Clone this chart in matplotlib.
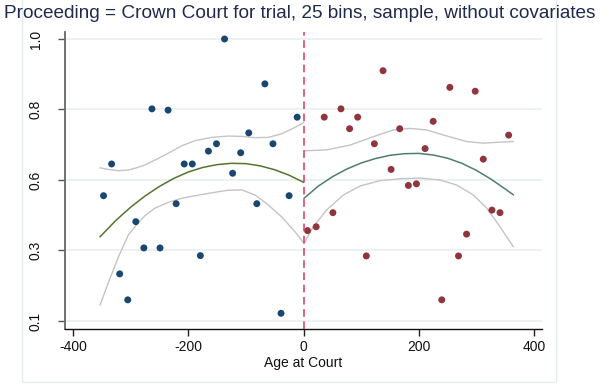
import matplotlib
matplotlib.use("Agg")
import matplotlib.pyplot as plt
from matplotlib.ticker import FormatStrFormatter, FixedLocator
from matplotlib.patches import Rectangle

plt.rcParams['font.family'] = ['Liberation Sans', 'DejaVu Sans']

# Binned means, below the cutoff
bins_left_x = [-347, -333, -319, -305, -291, -277, -263, -249, -235, -221,
               -207, -193, -179, -165, -151, -137, -123, -109, -95, -81,
               -67, -53, -39, -25, -11]
bins_left_y = [0.511, 0.610, 0.267, 0.186, 0.430, 0.348, 0.782, 0.348, 0.778, 0.486,
               0.610, 0.610, 0.324, 0.650, 0.673, 1.000, 0.581, 0.645, 0.707, 0.486,
               0.860, 0.673, 0.144, 0.511, 0.756]

# Binned means, above the cutoff
bins_right_x = [7, 22, 36, 51, 65, 80, 94, 109, 123, 138,
                152, 167, 182, 196, 211, 225, 240, 254, 269, 283,
                298, 312, 327, 341, 356]
bins_right_y = [0.402, 0.414, 0.756, 0.458, 0.782, 0.720, 0.756, 0.323, 0.673, 0.901,
                0.593, 0.720, 0.543, 0.548, 0.658, 0.743, 0.186, 0.849, 0.323, 0.391,
                0.837, 0.625, 0.466, 0.458, 0.700]

# Fitted polynomial, below the cutoff
fit_left_x = [-353, -325, -300, -275, -250, -225, -200, -175, -150, -125,
              -100, -75, -50, -25, 0]
fit_left_y = [0.383, 0.435, 0.475, 0.510, 0.540, 0.565, 0.585, 0.599, 0.608, 0.612,
              0.611, 0.604, 0.592, 0.575, 0.553]

# Confidence band, below the cutoff
ci_left_x = [-353, -339, -321, -304, -290, -275, -258, -235, -211, -188,
             -159, -131, -107, -84, -61, -38, -15, 0]
ci_left_hi = [0.598, 0.593, 0.589, 0.591, 0.598, 0.607, 0.622, 0.643, 0.667, 0.683,
              0.693, 0.697, 0.696, 0.692, 0.693, 0.704, 0.724, 0.739]
ci_left_lo = [0.170, 0.238, 0.321, 0.388, 0.420, 0.449, 0.472, 0.490, 0.503, 0.511,
              0.520, 0.528, 0.529, 0.513, 0.482, 0.445, 0.399, 0.364]

# Fitted polynomial, above the cutoff
fit_right_x = [1, 25, 50, 75, 100, 125, 150, 175, 200, 225, 250, 275, 300, 325, 350, 364]
fit_right_y = [0.503, 0.540, 0.570, 0.594, 0.613, 0.627, 0.637, 0.642, 0.643, 0.638,
               0.628, 0.612, 0.590, 0.563, 0.532, 0.514]

# Confidence band, above the cutoff
ci_right_x = [1, 40, 81, 121, 156, 185, 214, 249, 283, 312, 341, 364]
ci_right_hi = [0.651, 0.654, 0.669, 0.695, 0.716, 0.721, 0.716, 0.697, 0.680, 0.675, 0.678, 0.680]
ci_right_lo_x = [1, 17, 40, 69, 98, 133, 168, 202, 237, 266, 295, 318, 341, 364]
ci_right_lo = [0.362, 0.414, 0.466, 0.513, 0.541, 0.558, 0.564, 0.566, 0.560, 0.544,
               0.513, 0.472, 0.414, 0.352]

y_ticks = [0.12, 0.34, 0.56, 0.78, 1.0]
x_ticks = [-400, -200, 0, 200, 400]

title = "Proceeding = Crown Court for trial, 25 bins, sample, without covariates"
xlabel = "Age at Court"

navy = "#1a476f"
maroon = "#90353b"
green_l = "#55752f"
green_r = "#4f7f6c"
band = "#c4c4c4"
cut = "#d8385e"

fig = plt.figure(figsize=(6.15, 3.85), dpi=100)
fig.patch.set_facecolor("white")

# outer graph region frame
fig.add_artist(Rectangle((22 / 615, 3 / 385), (556 - 22) / 615, 1.2,
                         transform=fig.transFigure, fill=False,
                         edgecolor="#e4ecee", linewidth=1.0, zorder=0))

ax = fig.add_axes([65 / 615, (385 - 329) / 385, (542 - 65) / 615, (329 - 32) / 385])
ax.set_facecolor("white")
ax.set_xlim(-413.9, 413.9)
ax.set_ylim(0.095, 1.0218)

for yt in y_ticks:
    ax.axhline(yt, color="#ecf2f4", linewidth=1.4, zorder=0)

ax.plot(ci_left_x, ci_left_hi, color=band, linewidth=1.0, zorder=2)
ax.plot(ci_left_x, ci_left_lo, color=band, linewidth=1.0, zorder=2)
ax.plot(ci_right_x, ci_right_hi, color=band, linewidth=1.0, zorder=2)
ax.plot(ci_right_lo_x, ci_right_lo, color=band, linewidth=1.0, zorder=2)
ax.plot(fit_left_x, fit_left_y, color=green_l, linewidth=1.1, zorder=3)
ax.plot(fit_right_x, fit_right_y, color=green_r, linewidth=1.1, zorder=3)

ax.scatter(bins_left_x, bins_left_y, s=25, color=navy, edgecolors="none", zorder=4)
ax.scatter(bins_right_x, bins_right_y, s=25, color=maroon, edgecolors="none", zorder=4)

ax.axvline(0, color=cut, linewidth=1.1, linestyle=(0, (5, 3)), zorder=5)

ax.yaxis.set_major_locator(FixedLocator(y_ticks))
ax.yaxis.set_major_formatter(FormatStrFormatter('%.1f'))
ax.set_xticks(x_ticks)
ax.set_xticklabels([str(v) for v in x_ticks])
for lab in ax.get_yticklabels():
    lab.set_rotation(90)
    lab.set_va("center")

ax.tick_params(axis="y", direction="out", length=5, width=1, color="#555555",
               labelsize=10, pad=11, labelcolor="#111111")
ax.tick_params(axis="x", direction="out", length=5, width=1, color="#222222",
               labelsize=10, pad=3, labelcolor="#111111")

ax.spines["top"].set_visible(False)
ax.spines["right"].set_visible(False)
ax.spines["left"].set_color("#666666")
ax.spines["left"].set_linewidth(1.3)
ax.spines["bottom"].set_color("#111111")
ax.spines["bottom"].set_linewidth(1.0)

ax.set_xlabel(xlabel, fontsize=10, color="#111111", labelpad=1)
fig.text(300 / 615, 1 - 13 / 385, title, ha="center", va="center",
         fontsize=13.7, color="#1e2b4d")

fig.savefig("out.png", dpi=100, facecolor="white")
